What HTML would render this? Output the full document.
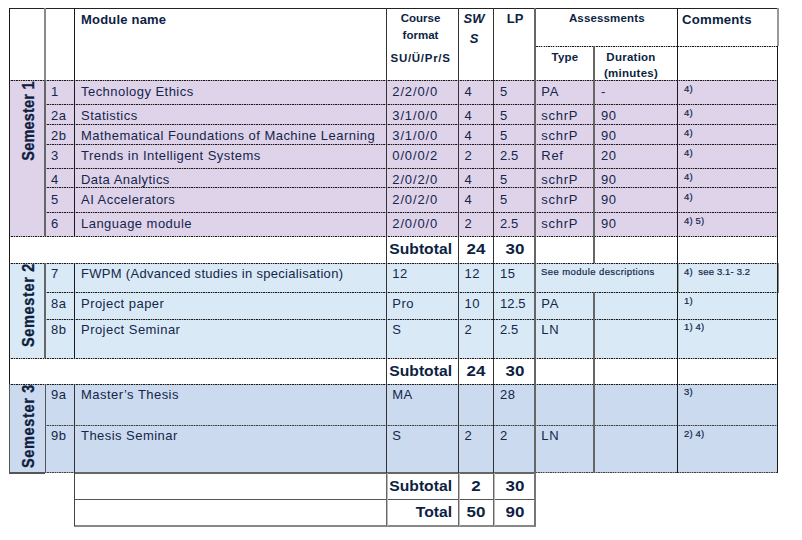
<!DOCTYPE html>
<html><head><meta charset="utf-8"><title>Module table</title>
<style>
html,body{margin:0;padding:0;background:#fff}
#p{position:relative;width:802px;height:540px;overflow:hidden;background:#fff;font-family:"Liberation Sans",sans-serif;color:#14264a}
.r{position:absolute}
.dot{position:absolute;height:1px;background-color:rgba(0,0,0,.28);background-image:repeating-linear-gradient(90deg,#1a1a1a 0,#1a1a1a 1.3px,transparent 1.3px,transparent 2.4px)}
.dot.g{background-image:repeating-linear-gradient(90deg,#444 0,#444 1.3px,transparent 1.3px,transparent 2.4px)}
.t{position:absolute;line-height:20px;white-space:nowrap}
.b{font-weight:bold;color:#0e1f42}
.i{font-style:italic}
.v{transform:rotate(-90deg) scale(1,1.2);transform-origin:50% 50%;-webkit-text-stroke:0.28px #0e1f42}
</style></head><body><div id="p">
<div class="r" style="left:9px;top:80px;width:769px;height:156px;background:#dfd3ea"></div>
<div class="r" style="left:9px;top:263px;width:769px;height:95px;background:#d9eaf6"></div>
<div class="r" style="left:9px;top:384px;width:769px;height:89px;background:#cbdaee"></div>
<div class="dot" style="left:9px;top:80px;width:769px"></div>
<div class="dot" style="left:45px;top:104px;width:733px"></div>
<div class="dot" style="left:45px;top:124px;width:733px"></div>
<div class="dot" style="left:45px;top:144px;width:733px"></div>
<div class="dot" style="left:45px;top:168px;width:733px"></div>
<div class="dot" style="left:45px;top:187px;width:733px"></div>
<div class="dot" style="left:45px;top:212px;width:733px"></div>
<div class="dot" style="left:9px;top:236px;width:769px"></div>
<div class="dot" style="left:534px;top:46px;width:244px"></div>
<div class="dot" style="left:9px;top:263px;width:769px"></div>
<div class="dot" style="left:45px;top:292px;width:733px"></div>
<div class="dot" style="left:45px;top:319px;width:733px"></div>
<div class="dot" style="left:9px;top:358px;width:769px"></div>
<div class="dot" style="left:9px;top:384px;width:769px"></div>
<div class="dot g" style="left:45px;top:425px;width:733px"></div>
<div class="r" style="left:9px;top:472px;width:36px;height:2px;background:#555"></div>
<div class="dot g" style="left:45px;top:472px;width:29px"></div>
<div class="r" style="left:74px;top:472px;width:462px;height:2px;background:#666"></div>
<div class="dot g" style="left:536px;top:472px;width:242px"></div>
<div class="r" style="left:74px;top:499px;width:462px;height:1px;background:#555"></div>
<div class="r" style="left:74px;top:525px;width:462px;height:2px;background:#888"></div>
<div class="r" style="left:9px;top:8px;width:769px;height:1px;background:#222"></div>
<div class="r" style="left:9px;top:8px;width:1px;height:376px;background:#1a1a1a"></div>
<div class="r" style="left:9px;top:384px;width:1px;height:89px;background:#555"></div>
<div class="r" style="left:44px;top:8px;width:2px;height:72px;background:#8a8a8a"></div>
<div class="r" style="left:44px;top:80px;width:2px;height:156px;background:#666"></div>
<div class="r" style="left:44px;top:263px;width:2px;height:95px;background:#666"></div>
<div class="r" style="left:45px;top:384px;width:1px;height:89px;background:#555"></div>
<div class="r" style="left:74px;top:8px;width:1px;height:228px;background:#1a1a1a"></div>
<div class="r" style="left:74px;top:263px;width:1px;height:95px;background:#1a1a1a"></div>
<div class="r" style="left:74px;top:384px;width:1px;height:89px;background:#333"></div>
<div class="r" style="left:74px;top:473px;width:1px;height:53px;background:#444"></div>
<div class="r" style="left:386px;top:8px;width:1px;height:465px;background:#333"></div>
<div class="r" style="left:386px;top:473px;width:1px;height:53px;background:#666"></div>
<div class="r" style="left:387px;top:473px;width:1px;height:53px;background:#bbb"></div>
<div class="r" style="left:458px;top:8px;width:1px;height:465px;background:#333"></div>
<div class="r" style="left:458px;top:473px;width:1px;height:53px;background:#666"></div>
<div class="r" style="left:459px;top:473px;width:1px;height:53px;background:#bbb"></div>
<div class="r" style="left:493px;top:8px;width:1px;height:465px;background:#333"></div>
<div class="r" style="left:493px;top:473px;width:1px;height:53px;background:#666"></div>
<div class="r" style="left:494px;top:473px;width:1px;height:53px;background:#bbb"></div>
<div class="r" style="left:534px;top:8px;width:2px;height:465px;background:#666"></div>
<div class="r" style="left:534px;top:473px;width:2px;height:53px;background:#777"></div>
<div class="r" style="left:593px;top:46px;width:2px;height:217px;background:#666"></div>
<div class="r" style="left:593px;top:292px;width:2px;height:181px;background:#666"></div>
<div class="r" style="left:677px;top:8px;width:1px;height:465px;background:#1a1a1a"></div>
<div class="r" style="left:678px;top:264px;width:1px;height:28px;background:#9aa"></div>
<div class="r" style="left:778px;top:263px;width:1px;height:30px;background:#888"></div>
<div class="r" style="left:777px;top:46px;width:1px;height:427px;background:#1a1a1a"></div>
<div class="r" style="left:777px;top:8px;width:2px;height:38px;background:#999"></div>
<div class="t b" style="top:10.00px;font-size:13px;left:81px;letter-spacing:0.2px;">Module name</div>
<div class="t b" style="top:8.02px;font-size:11.5px;left:320.5px;width:200px;text-align:center;">Course</div>
<div class="t b" style="top:24.52px;font-size:11.5px;left:320.5px;width:200px;text-align:center;">format</div>
<div class="t b" style="top:47.52px;font-size:11.5px;left:320.6px;width:200px;text-align:center;letter-spacing:0.72px;">SU/Ü/Pr/S</div>
<div class="t b i" style="top:9.00px;font-size:13px;left:374px;width:200px;text-align:center;">SW</div>
<div class="t b i" style="top:28.50px;font-size:13px;left:374px;width:200px;text-align:center;">S</div>
<div class="t b" style="top:9.00px;font-size:13px;left:415px;width:200px;text-align:center;">LP</div>
<div class="t b" style="top:8.02px;font-size:11.5px;left:506.79999999999995px;width:200px;text-align:center;letter-spacing:0.15px;">Assessments</div>
<div class="t b" style="top:10.13px;font-size:13.2px;left:682px;letter-spacing:0.2px;">Comments</div>
<div class="t b" style="top:47.02px;font-size:11.5px;left:465px;width:200px;text-align:center;letter-spacing:0.2px;">Type</div>
<div class="t b" style="top:47.02px;font-size:11.5px;left:531px;width:200px;text-align:center;letter-spacing:0.25px;">Duration</div>
<div class="t b" style="top:62.52px;font-size:11.5px;left:531px;width:200px;text-align:center;letter-spacing:0.25px;">(minutes)</div>
<div class="t " style="top:81.50px;font-size:13px;left:51px;letter-spacing:0.46px;">1</div>
<div class="t " style="top:81.50px;font-size:13px;left:81px;letter-spacing:0.46px;">Technology Ethics</div>
<div class="t " style="top:81.50px;font-size:13px;left:392.3px;letter-spacing:0.85px;">2/2/0/0</div>
<div class="t " style="top:81.50px;font-size:13px;left:464.5px;letter-spacing:0.46px;">4</div>
<div class="t " style="top:81.50px;font-size:13px;left:500px;letter-spacing:0.46px;">5</div>
<div class="t " style="top:81.50px;font-size:13px;left:541.3px;letter-spacing:0.7px;">PA</div>
<div class="t " style="top:81.50px;font-size:13px;left:601px;letter-spacing:0.46px;">-</div>
<div class="t " style="top:78.71px;font-size:9.5px;left:684px;letter-spacing:0.15px;-webkit-text-stroke:0.2px #14264a;">4)</div>
<div class="t " style="top:105.50px;font-size:13px;left:51px;letter-spacing:0.46px;">2a</div>
<div class="t " style="top:105.50px;font-size:13px;left:81px;letter-spacing:0.46px;">Statistics</div>
<div class="t " style="top:105.50px;font-size:13px;left:392.3px;letter-spacing:0.85px;">3/1/0/0</div>
<div class="t " style="top:105.50px;font-size:13px;left:464.5px;letter-spacing:0.46px;">4</div>
<div class="t " style="top:105.50px;font-size:13px;left:500px;letter-spacing:0.46px;">5</div>
<div class="t " style="top:105.50px;font-size:13px;left:541.3px;letter-spacing:0.7px;">schrP</div>
<div class="t " style="top:105.50px;font-size:13px;left:601px;letter-spacing:0.46px;">90</div>
<div class="t " style="top:102.71px;font-size:9.5px;left:684px;letter-spacing:0.15px;-webkit-text-stroke:0.2px #14264a;">4)</div>
<div class="t " style="top:125.50px;font-size:13px;left:51px;letter-spacing:0.46px;">2b</div>
<div class="t " style="top:125.50px;font-size:13px;left:81px;letter-spacing:0.46px;">Mathematical Foundations of Machine Learning</div>
<div class="t " style="top:125.50px;font-size:13px;left:392.3px;letter-spacing:0.85px;">3/1/0/0</div>
<div class="t " style="top:125.50px;font-size:13px;left:464.5px;letter-spacing:0.46px;">4</div>
<div class="t " style="top:125.50px;font-size:13px;left:500px;letter-spacing:0.46px;">5</div>
<div class="t " style="top:125.50px;font-size:13px;left:541.3px;letter-spacing:0.7px;">schrP</div>
<div class="t " style="top:125.50px;font-size:13px;left:601px;letter-spacing:0.46px;">90</div>
<div class="t " style="top:122.71px;font-size:9.5px;left:684px;letter-spacing:0.15px;-webkit-text-stroke:0.2px #14264a;">4)</div>
<div class="t " style="top:145.50px;font-size:13px;left:51px;letter-spacing:0.46px;">3</div>
<div class="t " style="top:145.50px;font-size:13px;left:81px;letter-spacing:0.46px;">Trends in Intelligent Systems</div>
<div class="t " style="top:145.50px;font-size:13px;left:392.3px;letter-spacing:0.85px;">0/0/0/2</div>
<div class="t " style="top:145.50px;font-size:13px;left:464.5px;letter-spacing:0.46px;">2</div>
<div class="t " style="top:145.50px;font-size:13px;left:500px;letter-spacing:0.1px;">2.5</div>
<div class="t " style="top:145.50px;font-size:13px;left:541.3px;letter-spacing:0.7px;">Ref</div>
<div class="t " style="top:145.50px;font-size:13px;left:601px;letter-spacing:0.46px;">20</div>
<div class="t " style="top:142.71px;font-size:9.5px;left:684px;letter-spacing:0.15px;-webkit-text-stroke:0.2px #14264a;">4)</div>
<div class="t " style="top:169.50px;font-size:13px;left:51px;letter-spacing:0.46px;">4</div>
<div class="t " style="top:169.50px;font-size:13px;left:81px;letter-spacing:0.46px;">Data Analytics</div>
<div class="t " style="top:169.50px;font-size:13px;left:392.3px;letter-spacing:0.85px;">2/0/2/0</div>
<div class="t " style="top:169.50px;font-size:13px;left:464.5px;letter-spacing:0.46px;">4</div>
<div class="t " style="top:169.50px;font-size:13px;left:500px;letter-spacing:0.46px;">5</div>
<div class="t " style="top:169.50px;font-size:13px;left:541.3px;letter-spacing:0.7px;">schrP</div>
<div class="t " style="top:169.50px;font-size:13px;left:601px;letter-spacing:0.46px;">90</div>
<div class="t " style="top:166.71px;font-size:9.5px;left:684px;letter-spacing:0.15px;-webkit-text-stroke:0.2px #14264a;">4)</div>
<div class="t " style="top:189.50px;font-size:13px;left:51px;letter-spacing:0.46px;">5</div>
<div class="t " style="top:189.50px;font-size:13px;left:81px;letter-spacing:0.46px;">AI Accelerators</div>
<div class="t " style="top:189.50px;font-size:13px;left:392.3px;letter-spacing:0.85px;">2/0/2/0</div>
<div class="t " style="top:189.50px;font-size:13px;left:464.5px;letter-spacing:0.46px;">4</div>
<div class="t " style="top:189.50px;font-size:13px;left:500px;letter-spacing:0.46px;">5</div>
<div class="t " style="top:189.50px;font-size:13px;left:541.3px;letter-spacing:0.7px;">schrP</div>
<div class="t " style="top:189.50px;font-size:13px;left:601px;letter-spacing:0.46px;">90</div>
<div class="t " style="top:186.71px;font-size:9.5px;left:684px;letter-spacing:0.15px;-webkit-text-stroke:0.2px #14264a;">4)</div>
<div class="t " style="top:213.50px;font-size:13px;left:51px;letter-spacing:0.46px;">6</div>
<div class="t " style="top:213.50px;font-size:13px;left:81px;letter-spacing:0.46px;">Language module</div>
<div class="t " style="top:213.50px;font-size:13px;left:392.3px;letter-spacing:0.85px;">2/0/0/0</div>
<div class="t " style="top:213.50px;font-size:13px;left:464.5px;letter-spacing:0.46px;">2</div>
<div class="t " style="top:213.50px;font-size:13px;left:500px;letter-spacing:0.1px;">2.5</div>
<div class="t " style="top:213.50px;font-size:13px;left:541.3px;letter-spacing:0.7px;">schrP</div>
<div class="t " style="top:213.50px;font-size:13px;left:601px;letter-spacing:0.46px;">90</div>
<div class="t " style="top:210.71px;font-size:9.5px;left:684px;letter-spacing:0.15px;-webkit-text-stroke:0.2px #14264a;">4) 5)</div>
<div class="t " style="top:264.30px;font-size:13px;left:51px;letter-spacing:0.46px;">7</div>
<div class="t " style="top:264.30px;font-size:13px;left:81px;letter-spacing:0.3px;">FWPM (Advanced studies in specialisation)</div>
<div class="t " style="top:264.30px;font-size:13px;left:392.3px;letter-spacing:0.46px;">12</div>
<div class="t " style="top:264.30px;font-size:13px;left:464.5px;letter-spacing:0.46px;">12</div>
<div class="t " style="top:264.30px;font-size:13px;left:500px;letter-spacing:0.46px;">15</div>
<div class="t " style="top:261.51px;font-size:9.5px;left:684px;letter-spacing:0.15px;-webkit-text-stroke:0.2px #14264a;">4)&nbsp; see 3.1- 3.2</div>
<div class="t " style="top:293.50px;font-size:13px;left:51px;letter-spacing:0.46px;">8a</div>
<div class="t " style="top:293.50px;font-size:13px;left:81px;letter-spacing:0.46px;">Project paper</div>
<div class="t " style="top:293.50px;font-size:13px;left:392.3px;letter-spacing:0.46px;">Pro</div>
<div class="t " style="top:293.50px;font-size:13px;left:464.5px;letter-spacing:0.46px;">10</div>
<div class="t " style="top:293.50px;font-size:13px;left:500px;letter-spacing:0.1px;">12.5</div>
<div class="t " style="top:293.50px;font-size:13px;left:541.3px;letter-spacing:0.7px;">PA</div>
<div class="t " style="top:290.71px;font-size:9.5px;left:684px;letter-spacing:0.15px;-webkit-text-stroke:0.2px #14264a;">1)</div>
<div class="t " style="top:320.00px;font-size:13px;left:51px;letter-spacing:0.46px;">8b</div>
<div class="t " style="top:320.00px;font-size:13px;left:81px;letter-spacing:0.46px;">Project Seminar</div>
<div class="t " style="top:320.00px;font-size:13px;left:392.3px;letter-spacing:0.46px;">S</div>
<div class="t " style="top:320.00px;font-size:13px;left:464.5px;letter-spacing:0.46px;">2</div>
<div class="t " style="top:320.00px;font-size:13px;left:500px;letter-spacing:0.1px;">2.5</div>
<div class="t " style="top:320.00px;font-size:13px;left:541.3px;letter-spacing:0.7px;">LN</div>
<div class="t " style="top:317.21px;font-size:9.5px;left:684px;letter-spacing:0.15px;-webkit-text-stroke:0.2px #14264a;">1) 4)</div>
<div class="t " style="top:384.80px;font-size:13px;left:51px;letter-spacing:0.46px;">9a</div>
<div class="t " style="top:384.80px;font-size:13px;left:81px;letter-spacing:0.46px;">Master’s Thesis</div>
<div class="t " style="top:384.80px;font-size:13px;left:392.3px;letter-spacing:0.46px;">MA</div>
<div class="t " style="top:384.80px;font-size:13px;left:464.5px;letter-spacing:0.46px;"></div>
<div class="t " style="top:384.80px;font-size:13px;left:500px;letter-spacing:0.46px;">28</div>
<div class="t " style="top:382.01px;font-size:9.5px;left:684px;letter-spacing:0.15px;-webkit-text-stroke:0.2px #14264a;">3)</div>
<div class="t " style="top:426.30px;font-size:13px;left:51px;letter-spacing:0.46px;">9b</div>
<div class="t " style="top:426.30px;font-size:13px;left:81px;letter-spacing:0.46px;">Thesis Seminar</div>
<div class="t " style="top:426.30px;font-size:13px;left:392.3px;letter-spacing:0.46px;">S</div>
<div class="t " style="top:426.30px;font-size:13px;left:464.5px;letter-spacing:0.46px;">2</div>
<div class="t " style="top:426.30px;font-size:13px;left:500px;letter-spacing:0.46px;">2</div>
<div class="t " style="top:426.30px;font-size:13px;left:541.3px;letter-spacing:0.7px;">LN</div>
<div class="t " style="top:423.51px;font-size:9.5px;left:684px;letter-spacing:0.15px;-webkit-text-stroke:0.2px #14264a;">2) 4)</div>
<div class="t " style="top:261.91px;font-size:9.5px;left:541px;letter-spacing:0.42px;-webkit-text-stroke:0.2px #14264a;">See module descriptions</div>
<div class="t b" style="top:238.80px;font-size:15px;left:151.8px;width:300px;text-align:right;transform:scaleX(1.045);transform-origin:100% 50%;">Subtotal</div>
<div class="t b" style="top:238.80px;font-size:15px;left:375.8px;width:200px;text-align:center;transform:scaleX(1.13);transform-origin:50% 50%;">24</div>
<div class="t b" style="top:238.80px;font-size:15px;left:415px;width:200px;text-align:center;transform:scaleX(1.13);transform-origin:50% 50%;">30</div>
<div class="t b" style="top:360.80px;font-size:15px;left:151.8px;width:300px;text-align:right;transform:scaleX(1.045);transform-origin:100% 50%;">Subtotal</div>
<div class="t b" style="top:360.80px;font-size:15px;left:375.8px;width:200px;text-align:center;transform:scaleX(1.13);transform-origin:50% 50%;">24</div>
<div class="t b" style="top:360.80px;font-size:15px;left:415px;width:200px;text-align:center;transform:scaleX(1.13);transform-origin:50% 50%;">30</div>
<div class="t b" style="top:475.80px;font-size:15px;left:151.8px;width:300px;text-align:right;transform:scaleX(1.045);transform-origin:100% 50%;">Subtotal</div>
<div class="t b" style="top:475.80px;font-size:15px;left:375.8px;width:200px;text-align:center;transform:scaleX(1.13);transform-origin:50% 50%;">2</div>
<div class="t b" style="top:475.80px;font-size:15px;left:415px;width:200px;text-align:center;transform:scaleX(1.13);transform-origin:50% 50%;">30</div>
<div class="t b" style="top:501.80px;font-size:15px;left:151.8px;width:300px;text-align:right;transform:scaleX(1.045);transform-origin:100% 50%;">Total</div>
<div class="t b" style="top:501.80px;font-size:15px;left:375.8px;width:200px;text-align:center;transform:scaleX(1.13);transform-origin:50% 50%;">50</div>
<div class="t b" style="top:501.80px;font-size:15px;left:415px;width:200px;text-align:center;transform:scaleX(1.13);transform-origin:50% 50%;">90</div>
<div class="t b v" style="left:-72.2px;top:110.7px;width:200px;text-align:center;font-size:14.5px;letter-spacing:0.2px">Semester 1</div>
<div class="t b v" style="left:-72.2px;top:294.6px;width:200px;text-align:center;font-size:14.5px;letter-spacing:0.66px">Semester 2</div>
<div class="t b v" style="left:-72.2px;top:416px;width:200px;text-align:center;font-size:14.5px;letter-spacing:0.66px">Semester 3</div>
</div></body></html>
